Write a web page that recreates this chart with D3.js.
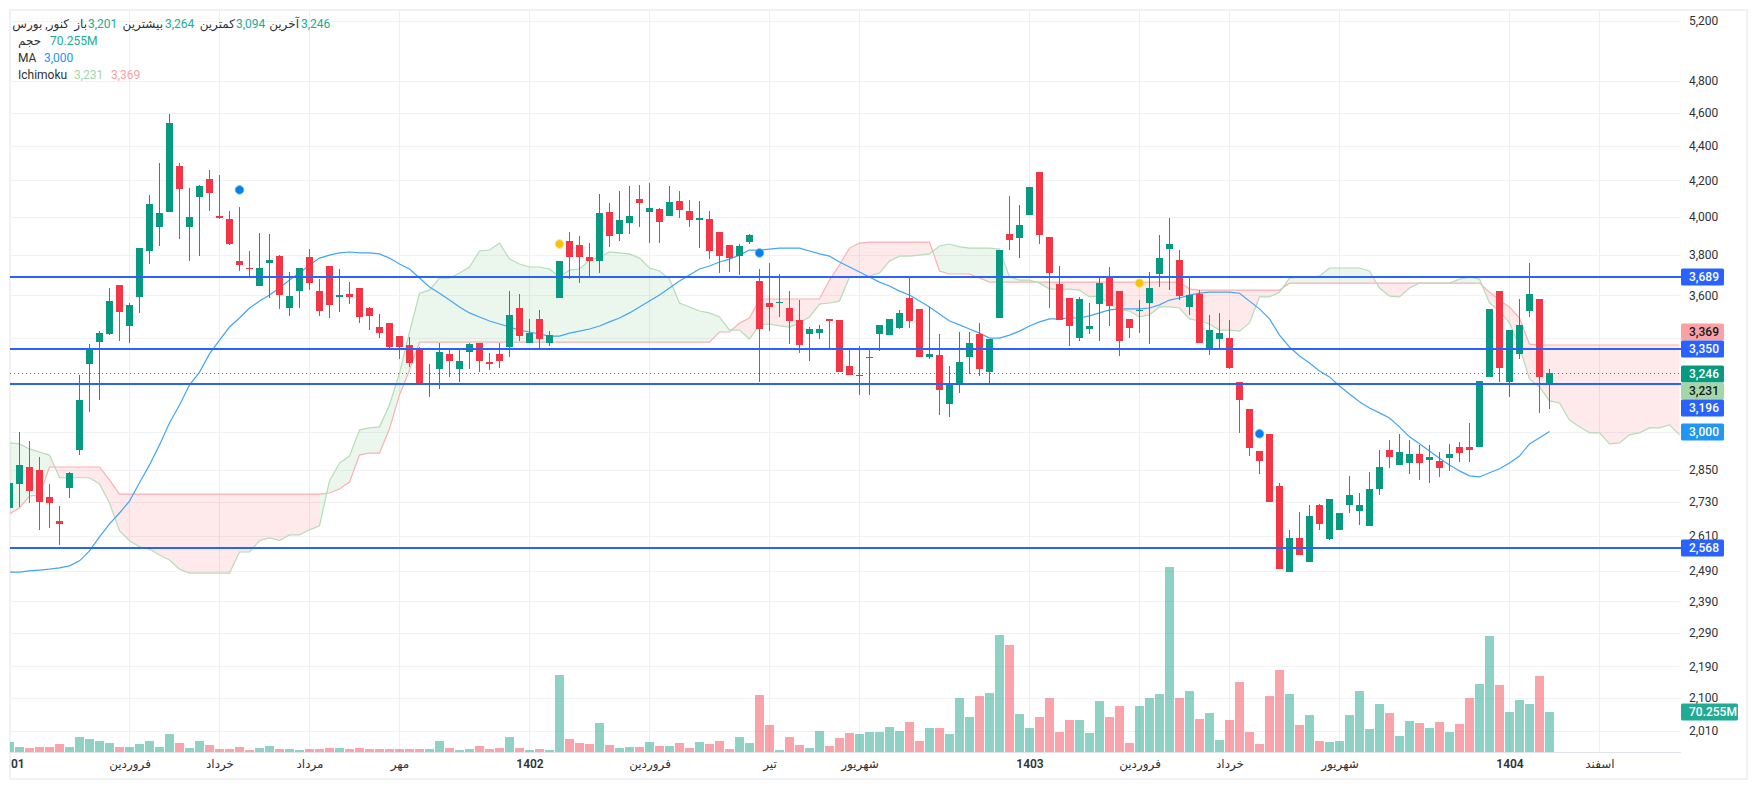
<!DOCTYPE html>
<html lang="fa">
<head>
<meta charset="UTF-8">
<title>کنور</title>
<script src="https://d3js.org/d3.v7.min.js"></script>
<style>
    body { margin: 0; background: #fff; overflow: hidden; }
    text { font-family: Roboto, "DejaVu Sans", sans-serif; font-size: 12px; fill: #2e3238; }
</style>
</head>
<body>
<div id="chart"></div>
<script>
// candles
var open = [
    2708,2797,2861,2850,2748,2661,2781,2927,3284,3382,
    3419,3650,3456,3593,3821,3946,4027,4282,3946,4108,
    4209,4004,3988,3770,3735,3646,3760,3795,3540,3621,
    3790,3621,3745,3593,3607,3636,3540,3451,3470,3409,
    3369,3351,3193,3262,3329,3262,3338,3378,3293,3329,
    3360,3540,3378,3489,3378,3588,3873,3852,3790,3770,
    4027,3909,3967,4098,4027,4043,4004,4087,4032,3983,
    3988,3920,3852,3795,3867,3670,3564,3564,3540,3484,
    3419,3423,3489,3484,3276,3232,3311,3419,3414,3446,
    3588,3536,3315,3324,3113,3202,3315,3419,3249,3493,
    3909,3888,4010,4248,3894,3655,3588,3400,3442,3559,
    3690,3621,3489,3526,3564,3705,3831,3775,3545,3607,
    3347,3396,3400,3206,3092,2923,2991,2789,2485,2602,
    2519,2719,2599,2630,2719,2697,2644,2778,2927,2869,
    2876,2911,2888,2884,2895,2939,2939,2939,3228,3621,
    3206,3329,3526,3583,3201
];
var high = [
    2812,2999,2963,2899,2797,2715,2842,3236,3373,3432,
    3636,3650,3564,3836,4119,4300,4591,4300,4158,4175,
    4259,4231,4032,4053,3821,3914,3909,3800,3715,3735,
    3831,3680,3745,3730,3665,3636,3545,3512,3470,3409,
    3405,3360,3284,3378,3356,3347,3378,3378,3334,3378,
    3621,3607,3489,3531,3432,3770,3920,3899,3862,4125,
    4076,4141,4169,4175,4186,4048,4169,4141,4092,4087,
    4032,3920,3852,3857,3909,3730,3760,3705,3621,3578,
    3451,3461,3489,3484,3356,3365,3351,3461,3489,3531,
    3695,3536,3545,3419,3276,3428,3428,3470,3396,3826,
    4114,4065,4163,4248,3894,3745,3588,3593,3564,3685,
    3740,3621,3489,3578,3715,3904,3994,3826,3690,3626,
    3507,3517,3484,3206,3092,2923,2991,2801,2630,2694,
    2719,2723,2741,2690,2827,2763,2842,2927,2967,2991,
    2967,2947,2947,2919,2951,2959,3035,3211,3536,3621,
    3437,3583,3760,3583,3264
];
var low = [
    2701,2712,2726,2630,2637,2577,2744,2907,3080,3130,
    3414,3387,3378,3517,3755,3847,4027,3883,3770,3795,
    4032,3988,3852,3720,3685,3646,3588,3536,3503,3540,
    3626,3503,3493,3522,3559,3470,3437,3400,3356,3306,
    3271,3198,3143,3176,3228,3206,3262,3249,3258,3267,
    3315,3387,3378,3356,3365,3588,3680,3660,3690,3710,
    3842,3873,3909,3946,3862,3862,4004,3994,3946,3836,
    3780,3710,3715,3700,3857,3206,3432,3498,3373,3334,
    3298,3396,3351,3249,3236,3151,3151,3342,3414,3442,
    3446,3315,3306,3068,3060,3160,3240,3232,3202,3493,
    3826,3785,4010,3857,3540,3484,3365,3387,3419,3387,
    3456,3320,3400,3423,3373,3641,3626,3578,3507,3378,
    3324,3351,3262,2995,2903,2835,2730,2495,2485,2543,
    2519,2630,2595,2630,2690,2647,2644,2755,2857,2869,
    2835,2812,2801,2823,2846,2880,2880,2939,3228,3206,
    3143,3306,3498,3076,3094
];
var close = [
    2801,2869,2770,2730,2726,2651,2839,3130,3347,3423,
    3573,3522,3555,3836,4070,4021,4536,4152,3999,4169,
    4130,3994,3857,3750,3730,3735,3775,3602,3597,3735,
    3660,3526,3555,3602,3593,3498,3503,3423,3360,3360,
    3289,3198,3202,3338,3298,3298,3373,3298,3284,3298,
    3507,3409,3423,3396,3414,3770,3790,3790,3770,4021,
    3899,3983,4004,4076,4048,3972,4081,4037,3983,3994,
    3821,3795,3785,3847,3904,3442,3545,3569,3479,3369,
    3442,3442,3479,3249,3236,3236,3315,3461,3489,3517,
    3479,3315,3329,3172,3202,3293,3378,3262,3396,3826,
    3878,3956,4163,3904,3710,3484,3456,3583,3456,3660,
    3550,3387,3446,3531,3636,3785,3857,3597,3602,3378,
    3437,3423,3267,3130,2935,2884,2730,2495,2602,2543,
    2679,2651,2741,2690,2755,2719,2778,2861,2899,2919,
    2911,2876,2899,2857,2911,2915,2927,3211,3536,3267,
    3437,3461,3607,3228,3246
];

// volume in millions
var volume = [
    17.6,8.8,7,8.8,8.8,14,8.8,26.3,22.8,19.3,
    15.8,8.8,8.8,14,19.3,8.8,31.6,15.8,7,19.3,
    12.3,5.3,5.3,8.8,3.5,7,10.5,5.3,5.3,3.5,
    5.3,5.3,7,7,5.3,7,5.3,5.3,5.3,5.3,
    5.3,5.3,5.3,19.3,7,3.5,5.3,10.5,5.3,7,
    26.3,7,3.5,5.3,3.5,135.2,22.8,15.8,14,51,
    12.3,7,8.8,8.8,17.6,10.5,10.5,15.8,7,17.6,
    14,19.3,5.3,26.3,15.8,100,47.4,3.5,26.3,12.3,
    7,37,10.5,24.6,33.4,31.6,35,35,44,37,
    52.7,19.3,42,42,31.6,94.8,61.5,98.3,103.6,205.5,
    187.9,66.7,42,61.5,94.8,35,56,56,33.4,89.6,
    61.5,80.8,15.8,80.8,94.8,101.8,324.9,94.8,107,58,
    68.5,21,56,123,35,14,98.3,144,101.8,47.4,
    65,19.3,17.6,19.3,65,107,40.4,84.3,68.5,28,
    54.4,51,42,52.7,35,49,94.8,119.4,203.7,117.7,
    70.255,91.3,84.3,133.5,70.255
];

// moving average
var ma = [
    2485,2485,2489,2492,2495,2499,2506,2523,2557,2605,
    2651,2690,2733,2801,2869,2947,3035,3109,3193,3249,
    3329,3391,3451,3493,3540,3573,3602,3636,3675,3710,
    3750,3785,3800,3811,3816,3811,3811,3806,3785,3755,
    3730,3685,3641,3611,3578,3545,3517,3498,3479,3465,
    3451,3437,3428,3419,3409,3409,3423,3432,3442,3456,
    3475,3493,3517,3545,3573,3602,3636,3670,3700,3730,
    3745,3765,3780,3800,3826,3826,3831,3836,3836,3836,
    3821,3806,3795,3765,3740,3715,3690,3665,3646,3621,
    3602,3573,3545,3512,3479,3461,3442,3423,3400,3400,
    3414,3432,3456,3475,3489,3489,3493,3493,3503,3517,
    3531,3536,3536,3536,3540,3555,3578,3588,3602,3611,
    3616,3616,3616,3611,3573,3536,3489,3414,3360,3320,
    3289,3254,3228,3189,3155,3122,3096,3076,3055,3019,
    2979,2951,2923,2895,2869,2846,2827,2823,2839,2854,
    2876,2903,2951,2975,3000
];

// ichimoku cloud, runs 13 bars past the last candle
var spanA = [
    2955,2951,2931,2919,2907,2820,2820,2820,2820,2797,
    2726,2627,2592,2571,2563,2543,2526,2495,2482,2482,
    2482,2482,2482,2553,2553,2592,2602,2592,2612,2612,
    2630,2644,2808,2876,2903,3007,3015,3019,3109,3245,
    3428,3611,3626,3685,3685,3710,3740,3821,3826,3862,
    3780,3755,3740,3740,3730,3690,3725,3730,3775,3790,
    3816,3811,3806,3785,3735,3720,3680,3564,3545,3526,
    3517,3498,3437,3437,3396,3461,3465,3456,3451,3470,
    3498,3559,3564,3573,3690,3690,3695,3710,3770,3795,
    3795,3800,3806,3847,3857,3842,3836,3836,3836,3831,
    3690,3675,3675,3660,3631,3631,3631,3626,3593,3597,
    3559,3531,3526,3498,3507,3545,3545,3540,3489,3479,
    3465,3437,3437,3432,3470,3593,3593,3616,3685,3690,
    3690,3695,3735,3735,3735,3735,3720,3636,3597,3593,
    3636,3660,3660,3660,3660,3680,3690,3680,3564,3526,
    3470,3360,3219,3185,3126,3117,3047,3019,2995,2995,
    2951,2955,2987,2995,3015,3015,3027,2987
];
var spanB = [
    2687,2708,2752,2755,2861,2861,2861,2861,2861,2861,
    2812,2759,2759,2759,2759,2759,2759,2759,2759,2759,
    2759,2759,2759,2759,2759,2759,2759,2759,2759,2759,
    2759,2759,2763,2778,2804,2907,2915,2915,3011,3151,
    3258,3382,3382,3382,3382,3382,3382,3382,3382,3382,
    3382,3382,3382,3382,3382,3382,3382,3382,3382,3382,
    3382,3382,3382,3382,3382,3382,3382,3382,3382,3382,
    3382,3428,3428,3470,3493,3583,3583,3583,3583,3583,
    3583,3583,3675,3750,3836,3862,3867,3867,3867,3867,
    3867,3867,3867,3720,3705,3705,3705,3685,3665,3665,
    3665,3665,3665,3665,3665,3665,3665,3665,3665,3665,
    3665,3665,3665,3665,3665,3665,3665,3665,3631,3626,
    3626,3626,3626,3626,3626,3626,3626,3626,3660,3660,
    3660,3660,3660,3660,3660,3660,3660,3660,3660,3660,
    3660,3660,3660,3660,3660,3660,3660,3660,3616,3578,
    3545,3493,3373,3369,3369,3369,3369,3369,3369,3369,
    3369,3369,3369,3369,3369,3369,3369,3369
];

// signal dots on the chart
var dotIndex = [23, 55, 75, 113, 125];
var dotPrice = [4147, 3857, 3811, 3660, 2991];
var dotKind = ["buy", "star", "buy", "star", "buy"];

// support / resistance levels
var levels = [3689, 3350, 3196, 2568];
var lastPrice = 3246;

// axes
var priceLabels = [5200, 4800, 4600, 4400, 4200, 4000, 3800, 3600, 2850, 2730, 2610, 2490, 2390, 2290, 2190, 2100, 2010];
var priceHidden = [3400, 3200, 3000];
var timeIndex = [0, 12, 21, 30, 39, 52, 64, 76, 85, 102, 113, 122, 133, 150, 159];
var timeLabels = ["01", "فروردین", "خرداد", "مرداد", "مهر", "1402", "فروردین", "تیر", "شهریور", "1403", "فروردین", "خرداد", "شهریور", "1404", "اسفند"];
var yearLabels = ["01", "1402", "1403", "1404"];

// right hand tags
var tagPrices = [3689, 3369, 3350, 3246, 3231, 3196, 3000, 2568];
var tagNudge = [0, -12.5, 0, 1, 14.5, 23.5, 0, 0];
var tagFill = ["#2962ff", "#faa1a4", "#2962ff", "#089981", "#a5d6a7", "#2962ff", "#2196f3", "#2962ff"];
var tagInk = ["#fff", "#131722", "#fff", "#fff", "#131722", "#fff", "#fff", "#fff"];

var UP = "#089981", DOWN = "#f23645", LEVEL = "#2962ff", MA_BLUE = "#42a5f5";
var A_LINE = "#b5dcb7", B_LINE = "#fbb0b2";

var width = 1757, height = 790;
var plotLeft = 10, plotRight = 1681, plotTop = 11, plotBottom = 752;

var x = d3.scaleLinear().domain([0, 167]).range([9.5, 1679.5]);
var y = d3.scaleLog().domain([5200, 2010]).range([21, 730.5]);
var yVol = d3.scaleLinear().domain([0, 324.9]).range([plotBottom, 567]);

var svg = d3.select("#chart").append("svg")
    .attr("width", width)
    .attr("height", height);

svg.append("defs").append("clipPath").attr("id", "plot")
    .append("rect")
    .attr("x", plotLeft)
    .attr("y", plotTop)
    .attr("width", plotRight - plotLeft)
    .attr("height", plotBottom - plotTop);

// frame
svg.append("rect")
    .attr("x", 10).attr("y", 10)
    .attr("width", 1737).attr("height", 769)
    .attr("fill", "none")
    .attr("stroke", "#f0f1f6")
    .attr("stroke-width", 2);

// grid
var grid = svg.append("g");
grid.selectAll("line.h")
    .data(priceLabels.concat(priceHidden))
    .enter().append("line")
    .attr("class", "h")
    .attr("x1", plotLeft).attr("x2", plotRight)
    .attr("y1", function (d) { return Math.round(y(d)) + 0.5; })
    .attr("y2", function (d) { return Math.round(y(d)) + 0.5; })
    .attr("stroke", "#f1f2f5");
grid.selectAll("line.v")
    .data(timeIndex.slice(1))
    .enter().append("line")
    .attr("class", "v")
    .attr("x1", function (d) { return x(d); })
    .attr("x2", function (d) { return x(d); })
    .attr("y1", plotTop).attr("y2", plotBottom)
    .attr("stroke", "#eeeff2");

var plot = svg.append("g").attr("clip-path", "url(#plot)");

// volume
plot.append("g").selectAll("rect")
    .data(volume)
    .enter().append("rect")
    .attr("x", function (d, i) { return x(i) - 4.5; })
    .attr("width", 9)
    .attr("y", function (d) { return Math.round(yVol(d)); })
    .attr("height", function (d) { return plotBottom - Math.round(yVol(d)); })
    .attr("fill", function (d, i) { return close[i] >= open[i] ? UP : DOWN; })
    .attr("opacity", 0.45);

// cloud: each stretch takes the colour of the bar it runs into
var cloud = spanA.map(function (a, i) { return { i: i, a: a, b: spanB[i] }; });
function greenAt(i) { return i < cloud.length && cloud[i].a >= cloud[i].b; }
function redAt(i) { return i < cloud.length && cloud[i].a < cloud[i].b; }

var greenArea = d3.area()
    .defined(function (d) { return greenAt(d.i) || greenAt(d.i + 1); })
    .x(function (d) { return x(d.i); })
    .y0(function (d) { return y(d.a); })
    .y1(function (d) { return y(d.b); });
var redArea = d3.area()
    .defined(function (d) { return redAt(d.i) || redAt(d.i + 1); })
    .x(function (d) { return x(d.i); })
    .y0(function (d) { return y(d.a); })
    .y1(function (d) { return y(d.b); });

plot.append("path").attr("d", greenArea(cloud)).attr("fill", "#4caf50").attr("opacity", 0.11);
plot.append("path").attr("d", redArea(cloud)).attr("fill", "#f23645").attr("opacity", 0.11);

function priceLine(values) {
    return d3.line()
        .x(function (d, i) { return x(i); })
        .y(function (d) { return y(d); })(values);
}

plot.append("path").attr("d", priceLine(spanB)).attr("fill", "none").attr("stroke", B_LINE).attr("stroke-width", 1.2);
plot.append("path").attr("d", priceLine(spanA)).attr("fill", "none").attr("stroke", A_LINE).attr("stroke-width", 1.2);
plot.append("path").attr("d", priceLine(ma)).attr("fill", "none").attr("stroke", MA_BLUE).attr("stroke-width", 1.2);

// candles, edges snapped to whole pixels so they stay crisp
var candles = plot.append("g").selectAll("g")
    .data(close)
    .enter().append("g")
    .attr("fill", function (d, i) { return d >= open[i] ? UP : DOWN; });

candles.append("rect")
    .attr("x", function (d, i) { return x(i) - 0.5; })
    .attr("width", 1)
    .attr("y", function (d, i) { return Math.round(y(high[i])); })
    .attr("height", function (d, i) { return Math.round(y(low[i])) - Math.round(y(high[i])); });

candles.append("rect")
    .attr("x", function (d, i) { return x(i) - 3.5; })
    .attr("width", 7)
    .attr("y", function (d, i) { return Math.round(y(Math.max(d, open[i]))); })
    .attr("height", function (d, i) {
        return Math.max(1, Math.round(y(Math.min(d, open[i]))) - Math.round(y(Math.max(d, open[i]))));
    });

// levels and last price
plot.append("line")
    .attr("x1", plotLeft).attr("x2", plotRight)
    .attr("y1", Math.round(y(lastPrice)) + 0.5).attr("y2", Math.round(y(lastPrice)) + 0.5)
    .attr("stroke", UP)
    .attr("stroke-dasharray", "1 3");

plot.selectAll("line.level")
    .data(levels)
    .enter().append("line")
    .attr("class", "level")
    .attr("x1", plotLeft).attr("x2", plotRight)
    .attr("y1", function (d) { return Math.round(y(d)); })
    .attr("y2", function (d) { return Math.round(y(d)); })
    .attr("stroke", LEVEL)
    .attr("stroke-width", 2);

// dots
plot.selectAll("circle")
    .data(dotPrice)
    .enter().append("circle")
    .attr("cx", function (d, i) { return x(dotIndex[i]); })
    .attr("cy", function (d) { return y(d); })
    .attr("r", 4.2)
    .attr("fill", function (d, i) { return dotKind[i] === "buy" ? "#0080f0" : "#f5c400"; })
    .attr("stroke", function (d, i) { return dotKind[i] === "buy" ? "#5aa9f0" : "#f7dc6a"; })
    .attr("stroke-width", 1);

// time axis
var timeAxis = svg.append("g")
    .attr("transform", "translate(0," + plotBottom + ")")
    .call(d3.axisBottom(x)
        .tickValues(timeIndex)
        .tickSize(0)
        .tickPadding(7)
        .tickFormat(function (d, i) { return timeLabels[i]; }));
timeAxis.select(".domain").remove();
timeAxis.selectAll("text")
    .style("font-family", 'Roboto, "DejaVu Sans", sans-serif')
    .style("font-size", "12px")
    .style("fill", "#2e3238")
    .style("font-weight", function (d, i) {
        return yearLabels.indexOf(timeLabels[i]) >= 0 ? "600" : "400";
    });
// the first label is cut by the frame, only its tail shows
timeAxis.selectAll("text").filter(function (d) { return d === 0; })
    .attr("text-anchor", "start")
    .attr("x", 1);

svg.append("line")
    .attr("x1", plotLeft).attr("x2", plotRight)
    .attr("y1", plotBottom + 0.5).attr("y2", plotBottom + 0.5)
    .attr("stroke", "#e0e3eb");

// price axis
var priceAxis = svg.append("g")
    .attr("transform", "translate(1689,0)")
    .call(d3.axisRight(y)
        .tickValues(priceLabels)
        .tickSize(0)
        .tickPadding(0)
        .tickFormat(d3.format(",")));
priceAxis.select(".domain").remove();
priceAxis.selectAll("text")
    .style("font-family", 'Roboto, "DejaVu Sans", sans-serif')
    .style("font-size", "12px")
    .style("fill", "#2e3238");

// tags
var tags = svg.append("g").selectAll("g")
    .data(tagPrices)
    .enter().append("g")
    .attr("transform", function (d, i) {
        return "translate(1681," + Math.round(y(d) + tagNudge[i]) + ")";
    });
tags.append("rect")
    .attr("y", -8.5)
    .attr("width", 43)
    .attr("height", 17)
    .attr("rx", 1.5)
    .attr("fill", function (d, i) { return tagFill[i]; });
tags.append("text")
    .attr("x", 8)
    .attr("dy", "0.35em")
    .attr("font-weight", 500)
    .style("fill", function (d, i) { return tagInk[i]; })
    .text(d3.format(","));

var volTag = svg.append("g")
    .attr("transform", "translate(1681," + yVol(volume[volume.length - 1]) + ")");
volTag.append("rect")
    .attr("y", -8.5).attr("width", 57).attr("height", 17).attr("rx", 1.5)
    .attr("fill", "#22ab94");
volTag.append("text")
    .attr("x", 8).attr("dy", "0.35em")
    .attr("font-weight", 500)
    .style("fill", "#fff")
    .text("70.255M");

// legend
var valueGreen = "#22ab94";
function legend(px, py, label, color, anchor) {
    svg.append("text")
        .attr("x", px).attr("y", py)
        .attr("dy", "0.35em")
        .attr("text-anchor", anchor || "start")
        .style("fill", color || "#2e3238")
        .text(label);
}
legend(69, 24, "کنور, بورس", null, "end");
legend(87, 24, "باز", null, "end");
legend(88, 24, "3,201", valueGreen);
legend(163, 24, "بیشترین", null, "end");
legend(165, 24, "3,264", valueGreen);
legend(235, 24, "کمترین", null, "end");
legend(236, 24, "3,094", valueGreen);
legend(299, 24, "آخرین", null, "end");
legend(301, 24, "3,246", valueGreen);
legend(18, 41, "حجم");
legend(50, 41, "70.255M", valueGreen);
legend(18, 58, "MA");
legend(44, 58, "3,000", "#2196f3");
legend(18, 75, "Ichimoku");
legend(74, 75, "3,231", "#a5d6a7");
legend(111, 75, "3,369", "#faa1a4");
</script>
</body>
</html>
